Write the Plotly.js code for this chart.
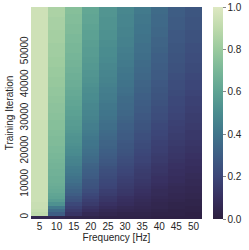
<!DOCTYPE html>
<html>
<head>
<meta charset="utf-8">
<script src="https://cdn.plot.ly/plotly-3.0.1.min.js"></script>
<style>html,body{margin:0;padding:0;background:#fff;}#chart{width:249px;height:250px;}</style>
</head>
<body>
<div id="chart"></div>
<script>
// Frequencies (columns)
const frequencies = [5, 10, 15, 20, 25, 30, 35, 40, 45, 50];
// Training iterations (rows), bottom to top
const iterations = [];
for (let i = 0; i < 64; i++) iterations.push(i * 1000);
const yTickValues = [0, 10000, 20000, 30000, 40000, 50000];
const yTickLabels = ["0", "10000", "20000", "30000", "40000", "50000"];
const cbTickValues = [0, 0.2, 0.4, 0.6, 0.8, 1.0];
const cbTickLabels = ["0.0", "0.2", "0.4", "0.6", "0.8", "1.0"];

// Per-frequency values, one per iteration row (row 0 = iteration 0)
const f5 = [0.05,0.90,0.92,0.93,0.93,0.94,0.94,0.94,0.94,0.94,
  0.94,0.94,0.94,0.94,0.94,0.94,0.94,0.94,0.94,0.94,
  0.94,0.94,0.94,0.94,0.94,0.94,0.94,0.94,0.94,0.94,
  0.95,0.95,0.95,0.95,0.95,0.95,0.95,0.95,0.95,0.95,
  0.95,0.95,0.95,0.95,0.95,0.95,0.95,0.95,0.95,0.95,
  0.95,0.95,0.95,0.95,0.95,0.95,0.95,0.95,0.95,0.95,
  0.95,0.95,0.95,0.95];
const f10 = [0.05,0.30,0.36,0.42,0.52,0.57,0.60,0.61,0.63,0.64,
  0.65,0.66,0.66,0.67,0.67,0.68,0.68,0.69,0.70,0.70,
  0.71,0.71,0.72,0.72,0.72,0.73,0.73,0.74,0.74,0.74,
  0.75,0.75,0.76,0.76,0.76,0.77,0.77,0.78,0.78,0.78,
  0.79,0.79,0.79,0.80,0.80,0.80,0.81,0.81,0.81,0.82,
  0.82,0.82,0.82,0.83,0.83,0.83,0.83,0.84,0.84,0.84,
  0.84,0.85,0.85,0.85];
const f15 = [0.04,0.12,0.15,0.18,0.21,0.25,0.27,0.30,0.32,0.34,
  0.36,0.38,0.39,0.41,0.42,0.43,0.45,0.46,0.47,0.49,
  0.50,0.51,0.52,0.53,0.53,0.54,0.55,0.56,0.57,0.57,
  0.58,0.59,0.59,0.60,0.61,0.61,0.62,0.63,0.63,0.64,
  0.65,0.65,0.66,0.66,0.67,0.67,0.68,0.68,0.69,0.69,
  0.70,0.70,0.70,0.71,0.71,0.71,0.72,0.72,0.72,0.73,
  0.73,0.73,0.74,0.74];
const f20 = [0.04,0.07,0.10,0.12,0.15,0.17,0.19,0.21,0.23,0.25,
  0.26,0.27,0.29,0.30,0.31,0.32,0.33,0.35,0.36,0.37,
  0.38,0.39,0.40,0.40,0.41,0.42,0.43,0.44,0.44,0.45,
  0.46,0.47,0.47,0.48,0.48,0.49,0.50,0.50,0.51,0.51,
  0.52,0.53,0.53,0.54,0.54,0.55,0.55,0.56,0.56,0.57,
  0.57,0.57,0.58,0.58,0.59,0.59,0.59,0.60,0.60,0.61,
  0.61,0.61,0.62,0.62];
const f25 = [0.03,0.05,0.07,0.09,0.11,0.13,0.14,0.16,0.17,0.19,
  0.20,0.21,0.22,0.23,0.24,0.25,0.27,0.28,0.29,0.30,
  0.31,0.32,0.33,0.33,0.34,0.35,0.36,0.37,0.37,0.38,
  0.39,0.40,0.40,0.41,0.41,0.42,0.43,0.43,0.44,0.44,
  0.45,0.46,0.46,0.47,0.47,0.48,0.48,0.49,0.49,0.50,
  0.50,0.50,0.51,0.51,0.52,0.52,0.52,0.53,0.53,0.53,
  0.53,0.54,0.54,0.54];
const f30 = [0.03,0.04,0.06,0.07,0.09,0.10,0.11,0.13,0.14,0.15,
  0.16,0.17,0.18,0.19,0.20,0.21,0.22,0.23,0.24,0.25,
  0.26,0.27,0.27,0.28,0.29,0.29,0.30,0.31,0.31,0.32,
  0.33,0.34,0.34,0.35,0.35,0.36,0.36,0.37,0.38,0.38,
  0.39,0.39,0.40,0.40,0.41,0.41,0.42,0.42,0.43,0.43,
  0.44,0.44,0.45,0.45,0.45,0.46,0.46,0.46,0.47,0.47,
  0.47,0.47,0.48,0.48];
const f35 = [0.03,0.04,0.05,0.06,0.07,0.08,0.09,0.10,0.11,0.12,
  0.13,0.14,0.15,0.15,0.16,0.17,0.18,0.19,0.19,0.20,
  0.21,0.22,0.22,0.23,0.24,0.24,0.25,0.26,0.26,0.27,
  0.28,0.28,0.29,0.29,0.30,0.30,0.31,0.31,0.32,0.32,
  0.33,0.33,0.34,0.34,0.35,0.35,0.36,0.36,0.37,0.37,
  0.38,0.38,0.38,0.39,0.39,0.39,0.40,0.40,0.40,0.41,
  0.41,0.41,0.42,0.42];
const f40 = [0.02,0.03,0.04,0.05,0.05,0.06,0.07,0.08,0.08,0.09,
  0.10,0.11,0.11,0.12,0.13,0.13,0.14,0.15,0.15,0.16,
  0.17,0.17,0.18,0.18,0.19,0.20,0.20,0.21,0.21,0.22,
  0.23,0.23,0.24,0.24,0.25,0.25,0.26,0.26,0.27,0.27,
  0.28,0.28,0.29,0.29,0.29,0.30,0.30,0.31,0.31,0.31,
  0.32,0.32,0.33,0.33,0.33,0.34,0.34,0.34,0.35,0.35,
  0.35,0.35,0.36,0.36];
const f45 = [0.02,0.03,0.03,0.04,0.04,0.05,0.06,0.06,0.07,0.07,
  0.08,0.09,0.09,0.10,0.10,0.11,0.11,0.12,0.13,0.13,
  0.14,0.14,0.15,0.15,0.16,0.16,0.17,0.17,0.18,0.18,
  0.19,0.19,0.20,0.20,0.21,0.21,0.21,0.22,0.22,0.23,
  0.23,0.23,0.24,0.24,0.25,0.25,0.25,0.26,0.26,0.26,
  0.27,0.27,0.27,0.28,0.28,0.28,0.28,0.29,0.29,0.29,
  0.29,0.30,0.30,0.30];
const f50 = [0.02,0.02,0.03,0.03,0.04,0.04,0.05,0.05,0.06,0.06,
  0.07,0.07,0.08,0.08,0.09,0.09,0.10,0.10,0.11,0.11,
  0.12,0.12,0.13,0.13,0.14,0.14,0.14,0.15,0.15,0.16,
  0.16,0.16,0.17,0.17,0.18,0.18,0.18,0.19,0.19,0.20,
  0.20,0.20,0.21,0.21,0.22,0.22,0.22,0.23,0.23,0.23,
  0.24,0.24,0.24,0.25,0.25,0.25,0.25,0.26,0.26,0.26,
  0.26,0.27,0.27,0.27];

const columns = [f5, f10, f15, f20, f25, f30, f35, f40, f45, f50];
const z = iterations.map((_, r) => columns.map(col => col[r]));

const colorscale = [
  [0.0, "rgb(44,30,62)"],
  [0.1, "rgb(55,47,95)"],
  [0.2, "rgb(60,70,120)"],
  [0.3, "rgb(62,93,132)"],
  [0.4, "rgb(64,117,139)"],
  [0.5, "rgb(74,140,143)"],
  [0.6, "rgb(94,163,147)"],
  [0.7, "rgb(121,183,152)"],
  [0.8, "rgb(154,202,158)"],
  [0.9, "rgb(190,218,172)"],
  [1.0, "rgb(222,232,194)"]
];

const font = {family: "Liberation Sans, Arial, sans-serif", size: 10, color: "#262626"};

const trace = {
  type: "heatmap",
  x: frequencies,
  y: iterations,
  z: z,
  zmin: 0, zmax: 1,
  colorscale: colorscale,
  hoverinfo: "skip",
  colorbar: {
    x: 1.0636, xanchor: "left", xpad: 0,
    y: 0.5, yanchor: "middle", len: 1, lenmode: "fraction", ypad: 0,
    thickness: 10, thicknessmode: "pixels",
    outlinewidth: 0,
    tickvals: cbTickValues, ticktext: cbTickLabels,
    ticks: "outside", ticklen: 3, tickwidth: 1, tickcolor: "#888",
    tickfont: font
  }
};

const layout = {
  width: 249, height: 250,
  margin: {l: 31, r: 45, t: 7, b: 31, pad: 0},
  paper_bgcolor: "#fff", plot_bgcolor: "#fff",
  font: font,
  xaxis: {
    range: [2.5, 52.5], tickvals: frequencies, ticktext: frequencies.map(String),
    showgrid: false, zeroline: false, showline: false,
    ticks: "",
    tickfont: font,
    title: {text: "Frequency [Hz]", font: font, standoff: 2}
  },
  yaxis: {
    range: [-500, 63500], tickvals: yTickValues, ticktext: yTickLabels,
    tickangle: -90,
    showgrid: false, zeroline: false, showline: false,
    ticks: "", ticklabelstandoff: 0,
    tickfont: font,
    title: {text: "Training Iteration", font: font, standoff: 3}
  }
};

Plotly.newPlot("chart", [trace], layout, {displayModeBar: false, staticPlot: true});
</script>
</body>
</html>
